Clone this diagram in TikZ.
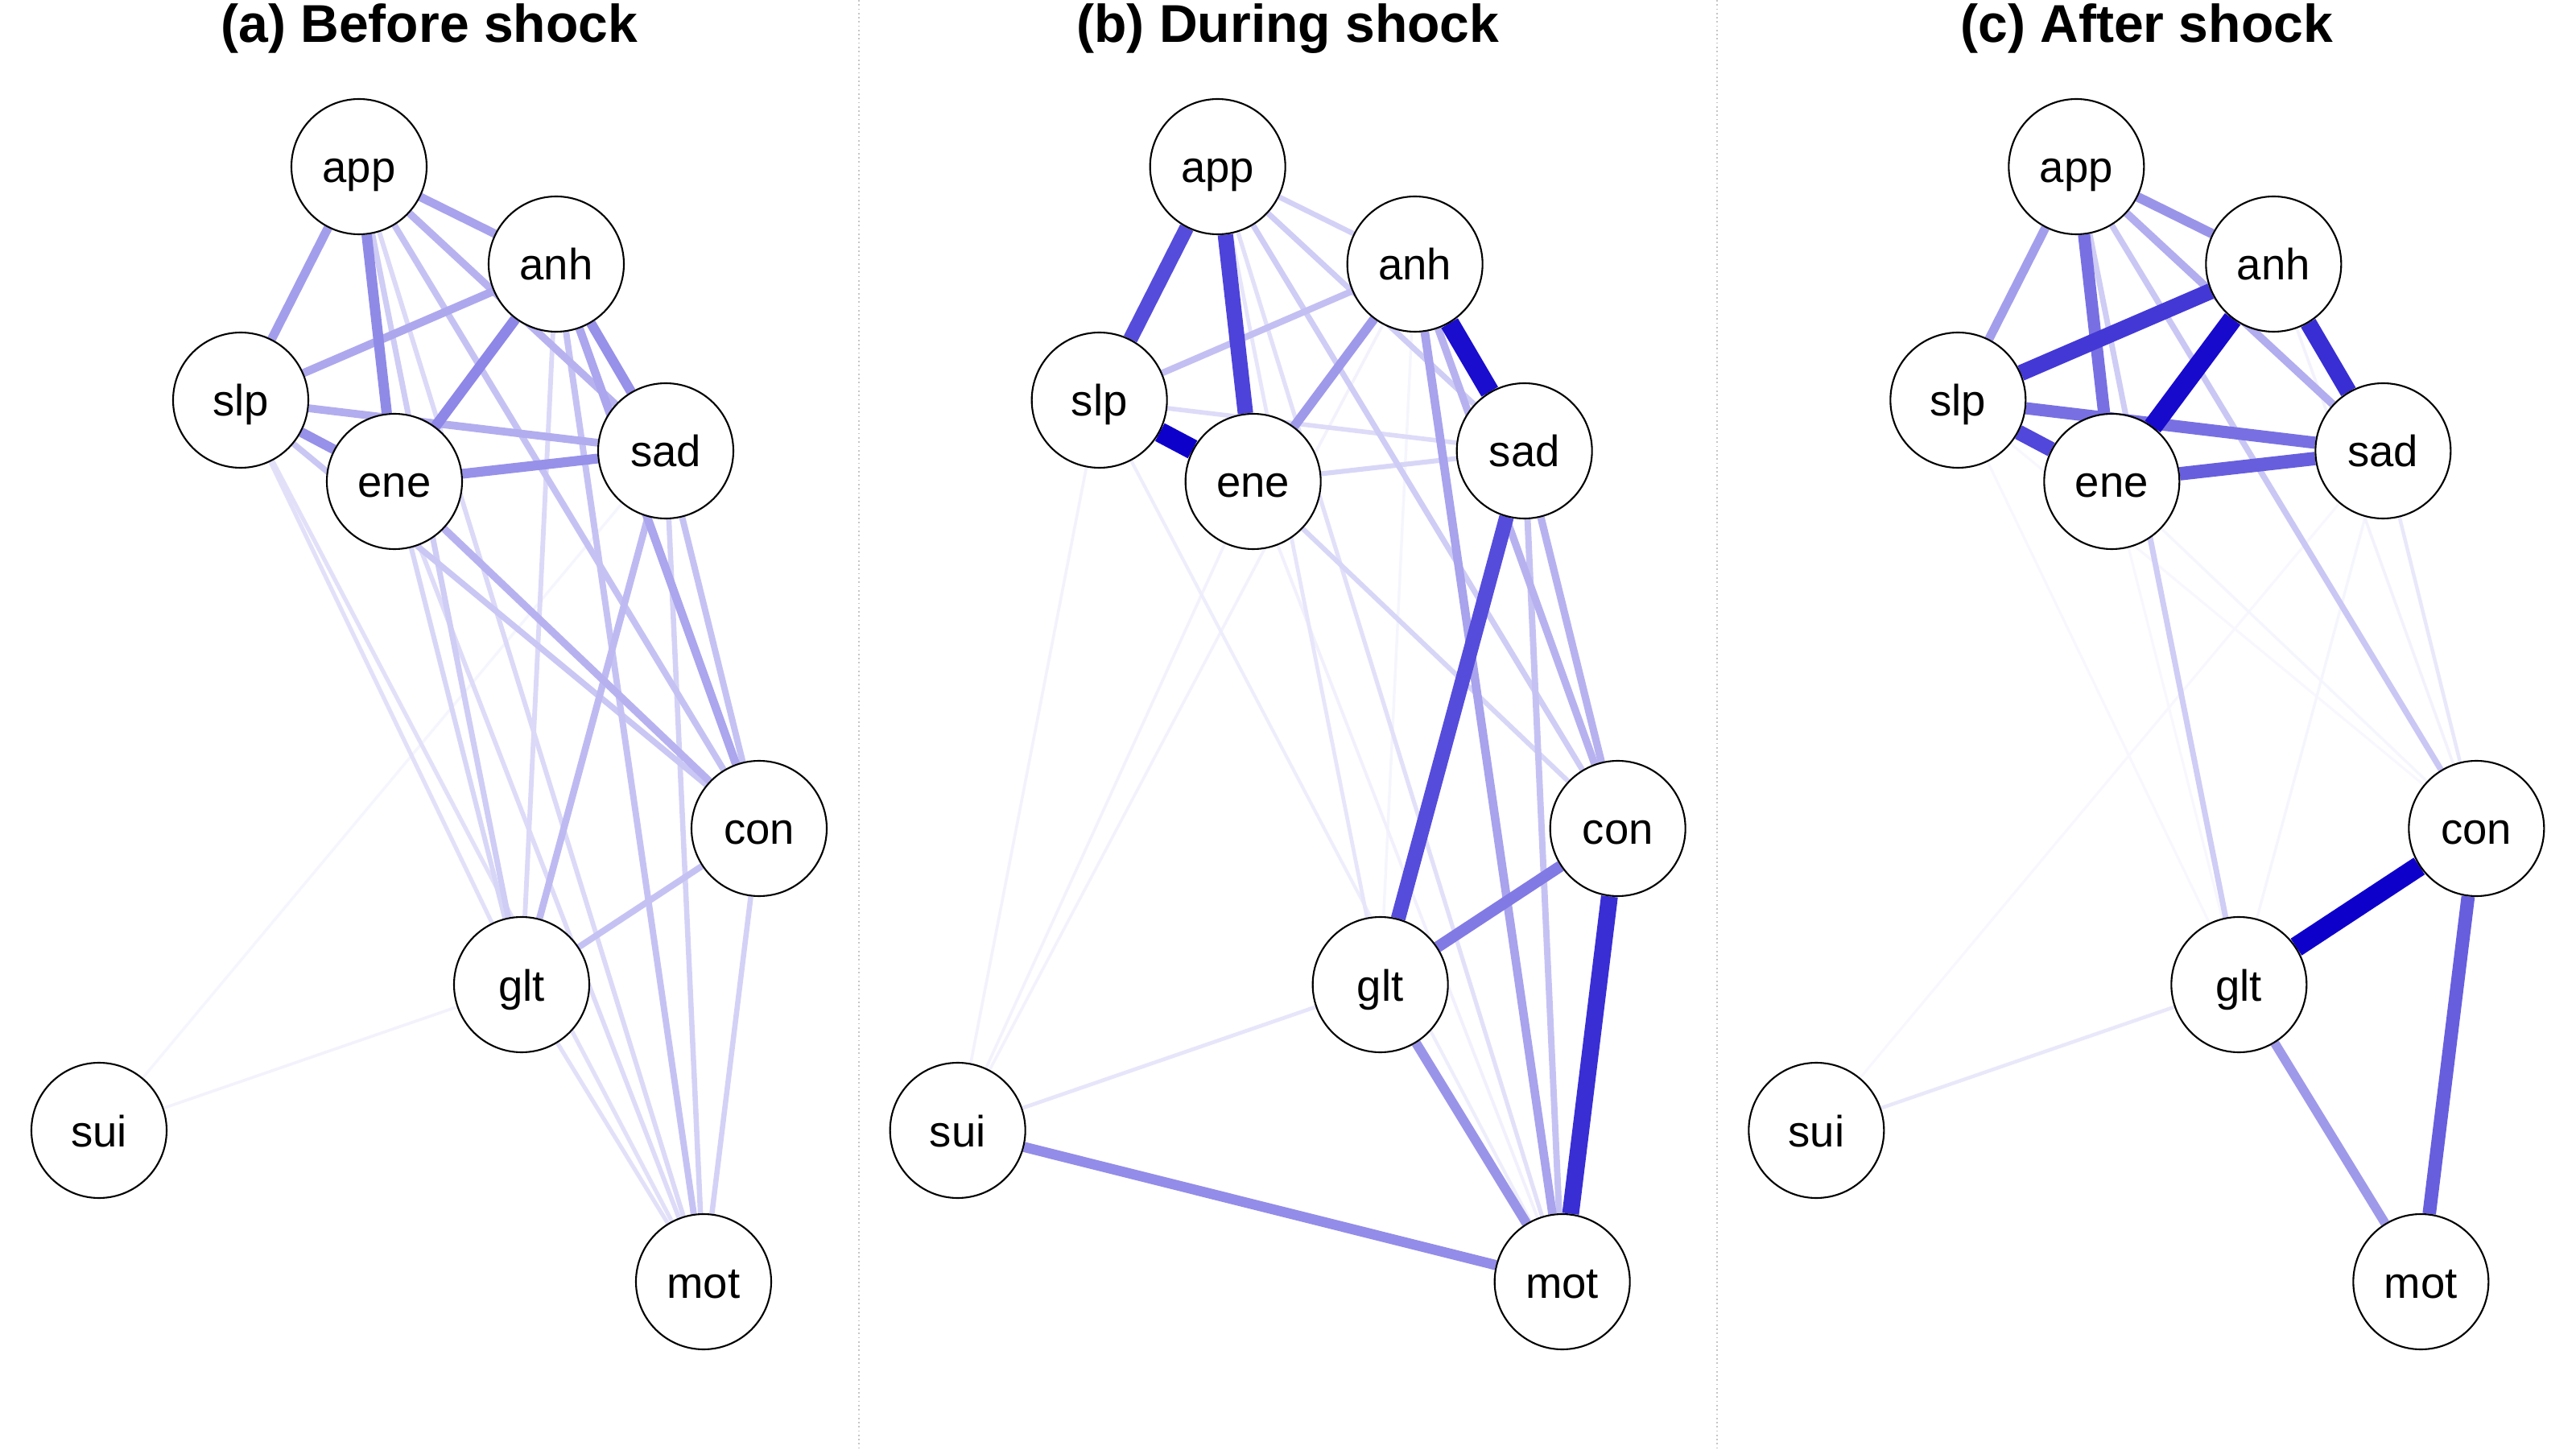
\documentclass[tikz,border=0pt]{standalone}
\usepackage{fontspec}
\setmainfont{Liberation Sans}
\definecolor{qblue}{RGB}{14,0,203}
\pgfdeclarelayer{edges}
\pgfsetlayers{edges,main}

\begin{document}
\begin{tikzpicture}[
    var/.style={circle, draw=black, line width=0.6pt, fill=white, minimum size=1.68cm,
        inner sep=0pt, font=\fontsize{15.5}{18}\selectfont, text height=0.4cm, text depth=0cm},
    ttl/.style={anchor=base, font=\bfseries\fontsize{18.8}{22}\selectfont},
    conn/.style={draw=qblue!#1!white, line width={0.25mm+0.0225mm*#1}},
    sep/.style={densely dotted, gray!45, line width=0.5pt}
]
   \useasboundingbox (0,0) rectangle (32,18);

   % panel separators
   \coordinate (s1t) at (10.6667,18);
   \coordinate (s1b) at (10.6667,0);
   \coordinate (s2t) at (21.3333,18);
   \coordinate (s2b) at (21.3333,0);
   \draw[sep] (s1t) -- (s1b);
   \draw[sep] (s2t) -- (s2b);

   % the same nine symptoms in each panel
   \foreach \p/\dx/\ttl in {a/0/Before shock, b/10.6667/During shock, c/21.3333/After shock}{
     \begin{scope}[xshift=\dx cm, name prefix=\p-]
       \node[ttl] (title) at (5.3333,17.47) {(\p) \ttl};
       \node[var] (app) at (4.46,15.93) {app};
       \node[var] (anh) at (6.91,14.72) {anh};
       \node[var] (slp) at (2.99,13.03) {slp};
       \node[var] (ene) at (4.90,12.02) {ene};
       \node[var] (sad) at (8.27,12.40) {sad};
       \node[var] (con) at (9.43,7.71) {con};
       \node[var] (glt) at (6.48,5.77) {glt};
       \node[var] (sui) at (1.23,3.96) {sui};
       \node[var] (mot) at (8.74,2.08) {mot};
     \end{scope}
   }

   \begin{pgfonlayer}{edges}
   % (a) before shock
   \foreach \u/\v/\w in {sad/sui/4, glt/sui/5, slp/glt/12, slp/mot/12, glt/mot/12,
       ene/mot/14, app/mot/15, anh/glt/15, ene/glt/16, sad/mot/18, con/mot/18,
       app/glt/20, slp/con/22, app/con/24, anh/mot/24, sad/con/24, con/glt/24,
       sad/glt/27, ene/con/30, app/sad/30, slp/sad/32, anh/slp/34, anh/con/35,
       app/anh/36, app/slp/38, anh/sad/43, slp/ene/43, ene/sad/43, app/ene/46, anh/ene/47}
     \draw[conn=\w] (a-\u) -- (a-\v);

   % (b) during shock
   \foreach \u/\v/\w in {anh/glt/4, slp/sui/5, ene/sui/5, anh/sui/5, ene/mot/6, slp/mot/7,
       app/glt/10, glt/sui/10, app/mot/12, slp/sad/14, ene/sad/16, ene/con/16,
       app/anh/18, app/con/20, app/sad/20, sad/mot/24, anh/slp/25, anh/con/30,
       sad/con/30, anh/mot/36, anh/ene/40, glt/mot/42, sui/mot/45, con/glt/52,
       app/slp/70, sad/glt/70, app/ene/74, con/mot/82, anh/sad/95, slp/ene/100}
     \draw[conn=\w] (b-\u) -- (b-\v);

   % (c) after shock
   \foreach \u/\v/\w in {sad/sui/3, slp/glt/3, ene/glt/3, slp/con/3, sad/glt/4, ene/con/4,
       anh/con/5, sad/con/9, glt/sui/9, app/glt/20, app/con/22, app/sad/32,
       app/slp/38, glt/mot/40, app/anh/42, app/ene/56, slp/sad/56, ene/sad/63,
       con/mot/63, slp/ene/72, anh/slp/78, anh/sad/82, anh/ene/96, con/glt/100}
     \draw[conn=\w] (c-\u) -- (c-\v);
   \end{pgfonlayer}
\end{tikzpicture}
\end{document}
